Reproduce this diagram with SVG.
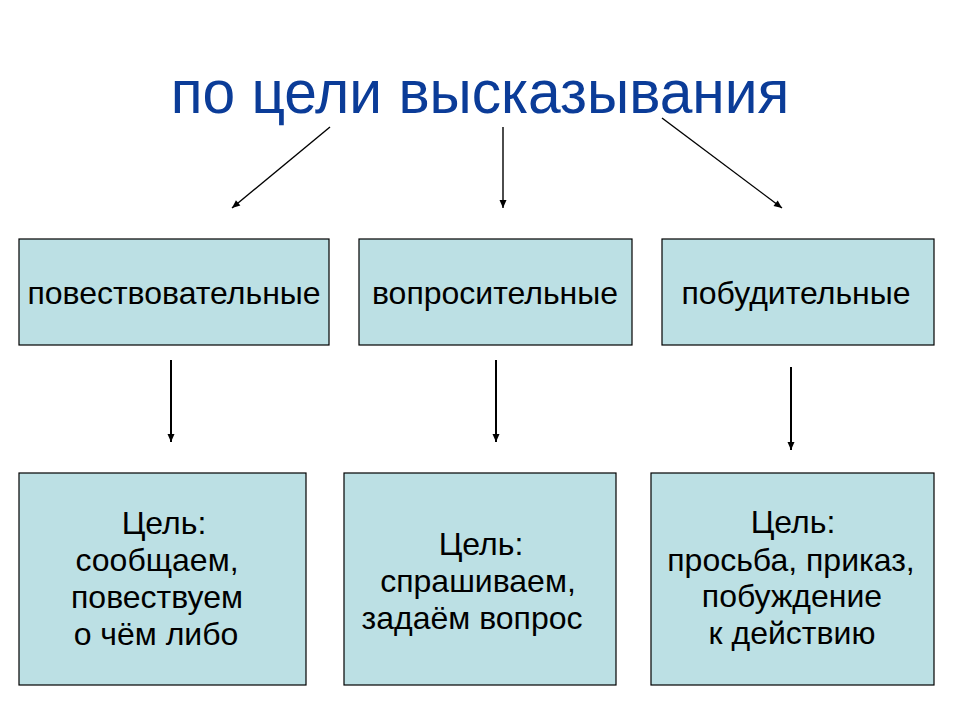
<svg xmlns="http://www.w3.org/2000/svg" width="960" height="720" viewBox="0 0 960 720">
<style>
.box{fill:#bce0e4;stroke:#000;stroke-width:1.2}
.lbl{font-family:"Liberation Sans",Arial,sans-serif;font-size:32px;fill:#000;text-anchor:middle}
.txt{font-family:"Liberation Sans",Arial,sans-serif;font-size:32px;fill:#000;text-anchor:middle}
.title{font-family:"Liberation Sans",Arial,sans-serif;font-size:62px;fill:#0b3c98;text-anchor:middle}
.con{stroke:#000;fill:none}
</style>
<defs>
<marker id="ah" markerUnits="userSpaceOnUse" markerWidth="10" markerHeight="10" viewBox="0 0 10 10" refX="9" refY="5" orient="auto">
<path d="M1,1.5 L9,5 L1,8.5 z" fill="#000"/>
</marker>
</defs>
<rect width="960" height="720" fill="#fff"/>
<g id="title"><text class="title" transform="translate(480 113) scale(0.947 1)" x="0" y="0">по цели высказывания</text></g>
<g id="connectors">
<line class="con" stroke-width="1.4" x1="330" y1="127" x2="232" y2="208" marker-end="url(#ah)"/>
<line class="con" stroke-width="1.4" x1="503" y1="127" x2="503" y2="208" marker-end="url(#ah)"/>
<line class="con" stroke-width="1.4" x1="662" y1="118" x2="782" y2="208" marker-end="url(#ah)"/>
<line class="con" stroke-width="2" x1="171" y1="360" x2="171" y2="442" marker-end="url(#ah)"/>
<line class="con" stroke-width="2" x1="496" y1="360" x2="496" y2="442" marker-end="url(#ah)"/>
<line class="con" stroke-width="2" x1="791" y1="367" x2="791" y2="450" marker-end="url(#ah)"/>
</g>
<g id="n1"><rect class="box" x="19" y="239" width="310" height="106"/><text class="lbl" x="174" y="304">повествовательные</text></g>
<g id="n2"><rect class="box" x="359" y="239" width="273" height="106"/><text class="lbl" x="495" y="304">вопросительные</text></g>
<g id="n3"><rect class="box" x="662" y="239" width="272" height="106"/><text class="lbl" x="796" y="304">побудительные</text></g>
<g id="d1"><rect class="box" x="19" y="473" width="287" height="212"/>
<text class="txt"><tspan x="164" y="534">Цель:</tspan><tspan x="157" y="571">сообщаем,</tspan><tspan x="157" y="608">повествуем</tspan><tspan x="156" y="645">о чём либо</tspan></text></g>
<g id="d2"><rect class="box" x="344" y="473" width="272" height="212"/>
<text class="txt"><tspan x="481" y="555">Цель:</tspan><tspan x="478" y="592">спрашиваем,</tspan><tspan x="472" y="629">задаём вопрос</tspan></text></g>
<g id="d3"><rect class="box" x="651" y="473" width="283" height="212"/>
<text class="txt"><tspan x="793" y="533">Цель:</tspan><tspan x="791" y="571">просьба, приказ,</tspan><tspan x="792" y="607">побуждение</tspan><tspan x="792" y="644">к действию</tspan></text></g>
</svg>
